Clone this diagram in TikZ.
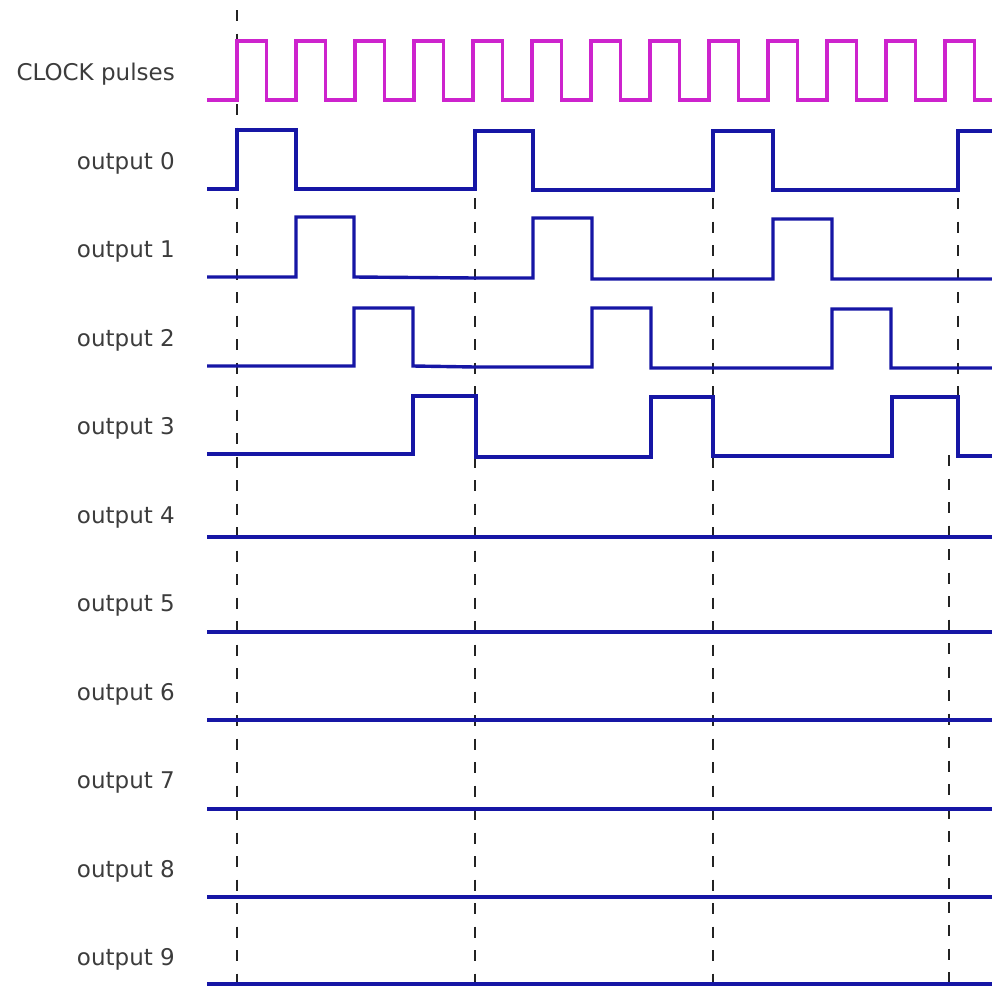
\documentclass[tikz,border=0pt]{standalone}
\usepackage{fontspec}
\setmainfont{DejaVu Sans}
\usepackage{tikz}
\usetikzlibrary{positioning}
\definecolor{clkpink}{RGB}{205,35,205}
\definecolor{sigblue}{RGB}{22,22,165}
\definecolor{lblgray}{RGB}{60,60,60}
\definecolor{tickgray}{RGB}{35,35,35}

\begin{document}
\begin{tikzpicture}[x=1pt,y=-1pt,
  lbl/.style={anchor=base east,inner sep=0pt,text=lblgray,font=\fontsize{23}{27}\selectfont},
  clk/.style={draw=clkpink,line width=3.2pt,line join=miter},
  sig/.style={draw=sigblue,line width=3.4pt,line join=miter},
  tick/.style={draw=tickgray,line width=2pt,dash pattern=on 11pt off 12.5pt}]
  \useasboundingbox (0,0) rectangle (992,985);
  % labels
  \node[lbl] (lClk) at (175,80)    {CLOCK pulses};
  \node[lbl] (lO0)  at (175,169)   {output 0};
  \node[lbl] (lO1)  at (175,257.5) {output 1};
  \node[lbl] (lO2)  at (175,346)   {output 2};
  \node[lbl] (lO3)  at (175,434.5) {output 3};
  \node[lbl] (lO4)  at (175,523)   {output 4};
  \node[lbl] (lO5)  at (175,611.5) {output 5};
  \node[lbl] (lO6)  at (175,700)   {output 6};
  \node[lbl] (lO7)  at (175,788.5) {output 7};
  \node[lbl] (lO8)  at (175,877)   {output 8};
  \node[lbl] (lO9)  at (175,965.5) {output 9};
  % dashed markers
  \draw[tick] (237,10)  -- (237,985);
  \draw[tick] (475,198) -- (475,985);
  \draw[tick] (713,198) -- (713,985);
  \draw[tick] (958,198) -- (958,455);
  \draw[tick] (949,455) -- (949,985);
  % clock
  \draw[clk] (207,100) -| (237,41) -| (266.5,100) -| (296,41) -| (325.5,100)
    -| (355,41) -| (384.5,100) -| (414,41) -| (443.5,100) -| (473,41)
    -| (502.5,100) -| (532,41) -| (561.5,100) -| (591,41) -| (620.5,100)
    -| (650,41) -| (679.5,100) -| (709,41) -| (738.5,100) -| (768,41)
    -| (797.5,100) -| (827,41) -| (856.5,100) -| (886,41) -| (915.5,100)
    -| (945,41) -| (974.5,100) -- (992,100);
  % outputs 0 to 3
  \draw[sig] (207,189) -| (237,130) -| (296,189) -| (475,131) -| (533,190)
    -| (713,131) -| (773,190) -| (958,131) -- (992,131);
  \draw[sig] (207,277) -| (296,217) -| (354,277) -- (475,278) -| (533,218)
    -| (592,279) -| (773,219) -| (832,279) -- (992,279);
  \draw[sig] (207,366) -| (354,308) -| (413,366) -- (475,367) -| (592,308)
    -| (651,368) -| (832,309) -| (891,368) -- (992,368);
  \draw[sig] (207,454) -| (413,396) -| (476,457) -| (651,397) -| (713,456)
    -| (892,397) -| (958,456) -- (992,456);
  % outputs 4 to 9 stay low
  \draw[sig] (207,537) -- (992,537);
  \draw[sig] (207,632) -- (992,632);
  \draw[sig] (207,720) -- (992,720);
  \draw[sig] (207,809) -- (992,809);
  \draw[sig] (207,897) -- (992,897);
  \draw[sig] (207,984) -- (992,984);
\end{tikzpicture}
\end{document}
